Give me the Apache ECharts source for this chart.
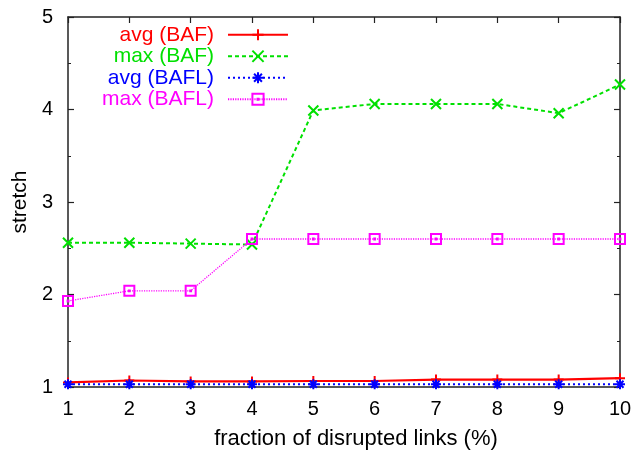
<!DOCTYPE html>
<html><head><meta charset="utf-8">
<script src="https://cdn.jsdelivr.net/npm/echarts@6/dist/echarts.min.js"></script>
<style>html,body{margin:0;padding:0;background:#fff}#c{width:633px;height:454px}</style>
</head><body><div id="c"></div>
<script>
var xValues = [1, 2, 3, 4, 5, 6, 7, 8, 9, 10];
var avgBAF  = [1.05, 1.07, 1.06, 1.06, 1.065, 1.065, 1.08, 1.08, 1.08, 1.095];
var maxBAF  = [2.56, 2.56, 2.55, 2.54, 3.99, 4.06, 4.06, 4.06, 3.96, 4.27];
var avgBAFL = [1.03, 1.03, 1.03, 1.03, 1.03, 1.03, 1.03, 1.03, 1.03, 1.03];
var maxBAFL = [1.93, 2.04, 2.04, 2.60, 2.60, 2.60, 2.60, 2.60, 2.60, 2.60];
var seriesNames = ['avg (BAF)', 'max (BAF)', 'avg (BAFL)', 'max (BAFL)'];

function pairs(v){ return xValues.map(function(x,i){ return [x, v[i]]; }); }

var FONT = '"Liberation Sans", Arial, sans-serif';
var AX = '#222';
var plusSym = 'path://M0,5L10,5M5,0L5,10';
var crossSym = 'path://M0,0L10,10M10,0L0,10';
var starSym = 'path://M0,5L10,5M5,0L5,10M1.5,1.5L8.5,8.5M8.5,1.5L1.5,8.5';
var boxSym = 'path://M0,0L10,0L10,10L0,10Z M4.6,4.6L5.4,4.6L5.4,5.4L4.6,5.4Z';

function mkSeries(name, data, color, type, width, sym, symSize){
  return {
    name: name, type: 'line', data: pairs(data),
    symbol: sym, symbolSize: symSize, showSymbol: true,
    lineStyle: {color: color, width: width, type: type},
    itemStyle: {color: color, borderColor: color, borderWidth: 2},
    emphasis: {disabled: true}, z: 3
  };
}

var chart = echarts.init(document.getElementById('c'), null, {renderer: 'canvas'});
var baseAxis = {
  min: 1, max: 5, interval: 1, type: 'value',
  axisLine: {show: true, lineStyle: {color: AX, width: 1.5}},
  axisTick: {show: true, inside: true, length: 6, lineStyle: {color: AX, width: 1.2}},
  splitLine: {show: false}
};
chart.setOption({
  animation: false,
  textStyle: {fontFamily: FONT},
  grid: {left: 68, right: 13, top: 17, bottom: 67, containLabel: false, outerBoundsMode: 'none'},
  legend: {
    orient: 'vertical', left: 34, top: 19, align: 'right',
    itemWidth: 60, itemHeight: 14, itemGap: 0,
    textStyle: {fontFamily: FONT, fontSize: 21, width: 175, align: 'right', lineHeight: 21.5, padding: [0, 9, 0, 0]},
    data: [
      {name: seriesNames[0], textStyle: {color: '#ff0000'}},
      {name: seriesNames[1], textStyle: {color: '#00e000'}},
      {name: seriesNames[2], textStyle: {color: '#0000ff'}},
      {name: seriesNames[3], textStyle: {color: '#ff00ff'}}
    ]
  },
  xAxis: [
    Object.assign({}, baseAxis, {
      min: 1, max: 10, interval: 1, position: 'bottom',
      name: 'fraction of disrupted links (%)', nameLocation: 'middle', nameGap: 41,
      nameTextStyle: {fontFamily: FONT, fontSize: 22, color: '#000', padding: [0, 0, 0, 24]},
      axisLabel: {fontFamily: FONT, fontSize: 20, color: '#000', margin: 12}
    }),
    Object.assign({}, baseAxis, {
      min: 1, max: 10, interval: 1, position: 'top',
      axisLabel: {show: false}
    })
  ],
  yAxis: [
    Object.assign({}, baseAxis, {
      position: 'left',
      name: 'stretch', nameLocation: 'middle', nameGap: 37,
      nameTextStyle: {fontFamily: FONT, fontSize: 21, color: '#000'},
      axisLabel: {fontFamily: FONT, fontSize: 20, color: '#000', margin: 15},
      minorTick: {show: true, splitNumber: 2, length: 3, lineStyle: {color: AX, width: 1}}
    }),
    Object.assign({}, baseAxis, {
      position: 'right', axisLabel: {show: false},
      minorTick: {show: true, splitNumber: 2, length: 3, lineStyle: {color: AX, width: 1}}
    })
  ],
  series: [
    mkSeries(seriesNames[0], avgBAF, '#ff0000', 'solid', 2.2, plusSym, 10),
    mkSeries(seriesNames[1], maxBAF, '#00e000', [4, 3], 2, crossSym, 10),
    mkSeries(seriesNames[2], avgBAFL, '#0000ff', [2, 3], 2, starSym, 10),
    (function(){ var s = mkSeries(seriesNames[3], maxBAFL, '#ff00ff', [1.2, 1.2], 1.3, boxSym, 10);
      s.itemStyle = {color: 'transparent', borderColor: '#ff00ff', borderWidth: 2}; return s; })()
  ]
});
</script>
</body></html>
